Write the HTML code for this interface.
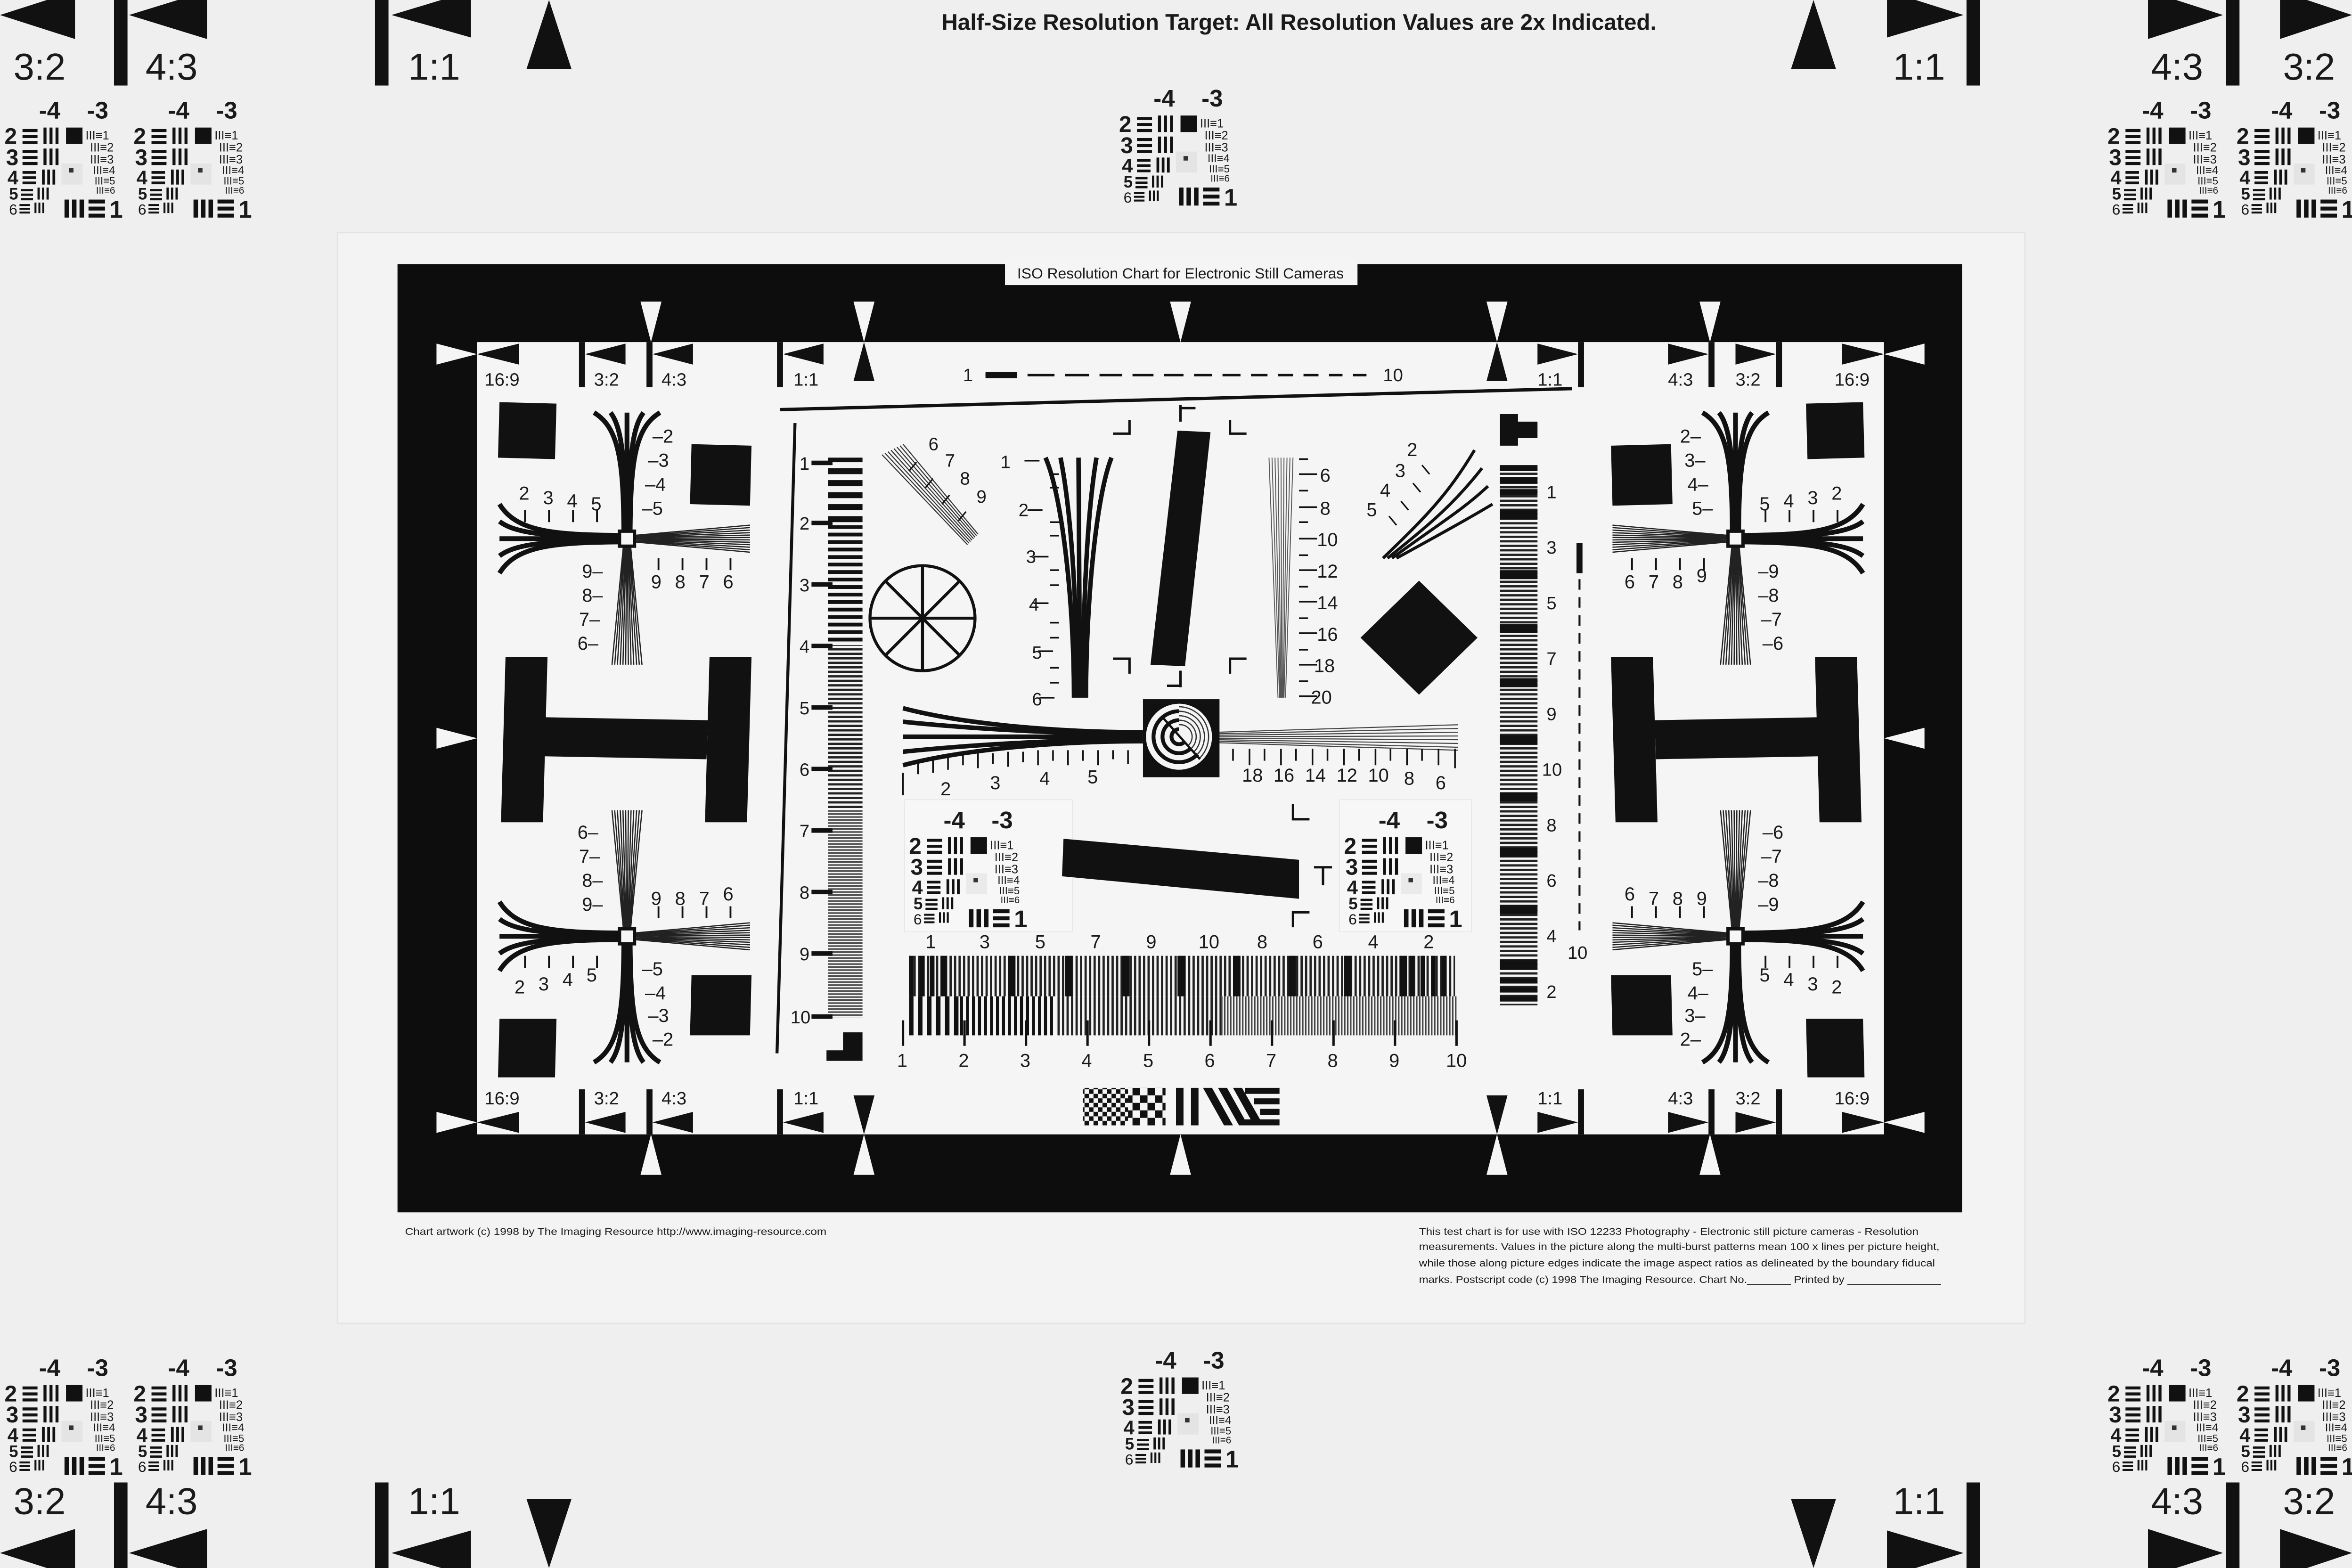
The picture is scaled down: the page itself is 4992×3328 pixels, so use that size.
<!DOCTYPE html>
<html><head><meta charset="utf-8">
<style>
html,body{margin:0;padding:0;background:#efefef;}
svg{display:block;}
text{font-family:"Liberation Sans",Arial,sans-serif;fill:#1a1a1a;}
</style></head>
<body>
<svg width="4992" height="3328" viewBox="0 0 1568 1045" preserveAspectRatio="none" xmlns="http://www.w3.org/2000/svg">
<defs>
<pattern id="h8" width="10" height="8" patternUnits="userSpaceOnUse"><rect width="10" height="4" fill="#111"/></pattern>
<pattern id="h5" width="10" height="5" patternUnits="userSpaceOnUse"><rect width="10" height="2.5" fill="#111"/></pattern>
<pattern id="h3" width="10" height="3" patternUnits="userSpaceOnUse"><rect width="10" height="1.5" fill="#222"/></pattern>
<pattern id="h2" width="10" height="2" patternUnits="userSpaceOnUse"><rect width="10" height="1" fill="#444"/></pattern>
<pattern id="v6" width="6" height="10" patternUnits="userSpaceOnUse"><rect width="3" height="10" fill="#111"/></pattern>
<pattern id="v4" width="4" height="10" patternUnits="userSpaceOnUse"><rect width="2" height="10" fill="#111"/></pattern>
<pattern id="v3" width="3" height="10" patternUnits="userSpaceOnUse"><rect width="1.5" height="10" fill="#222"/></pattern>
<pattern id="v2" width="2" height="10" patternUnits="userSpaceOnUse"><rect width="1" height="10" fill="#444"/></pattern>
<pattern id="chk" width="6" height="6" patternUnits="userSpaceOnUse"><rect width="3" height="3" fill="#111"/><rect x="3" y="3" width="3" height="3" fill="#111"/></pattern>
<pattern id="chk2" width="10" height="10" patternUnits="userSpaceOnUse"><rect width="5" height="5" fill="#111"/><rect x="5" y="5" width="5" height="5" fill="#111"/></pattern>
<g id="cross">
 <g fill="none" stroke="#111" stroke-width="3.2">
  <path d="M -2.1 -6 C -2.5 -50 -5 -74 -22 -84"/><path d="M -1 -6 C -1.3 -50 -3 -74 -11 -84"/><path d="M 0 -6 L 0 -84"/><path d="M 1 -6 C 1.3 -50 3 -74 11 -84"/><path d="M 2.1 -6 C 2.5 -50 5 -74 22 -84"/>
  <path d="M -6 -2.2 C -50 -2.6 -74 -5 -85 -23"/><path d="M -6 -1.1 C -50 -1.3 -74 -3 -85 -11.5"/><path d="M -6 0 L -85 0"/><path d="M -6 1.1 C -50 1.3 -74 3 -85 11.5"/><path d="M -6 2.2 C -50 2.6 -74 5 -85 23"/>
 </g>
 <path fill="none" stroke="#222" stroke-width="0.8" d="M -2.5 6 L -10 84 M -2 6 L -8.2 84 M -1.6 6 L -6.4 84 M -1.1 6 L -4.5 84 M -0.7 6 L -2.7 84 M -0.2 6 L -0.9 84 M 0.2 6 L 0.9 84 M 0.7 6 L 2.7 84 M 1.1 6 L 4.5 84 M 1.6 6 L 6.4 84 M 2 6 L 8.2 84 M 2.5 6 L 10 84
 M 6 -2.3 L 82 -9 M 6 -1.8 L 82 -7.4 M 6 -1.4 L 82 -5.7 M 6 -1 L 82 -4 M 6 -0.6 L 82 -2.4 M 6 -0.2 L 82 -0.8 M 6 0.2 L 82 0.8 M 6 0.6 L 82 2.4 M 6 1 L 82 4 M 6 1.4 L 82 5.7 M 6 1.8 L 82 7.4 M 6 2.3 L 82 9"/>
 <rect x="-5" y="-5" width="10" height="10" fill="#f6f6f6" stroke="#111" stroke-width="2.2"/>
</g>
<g id="pshapes">
 <rect x="13" y="23" width="10" height="2" fill="#111"/><rect x="13" y="27" width="10" height="2" fill="#111"/><rect x="13" y="31" width="10" height="2" fill="#111"/>
 <rect x="27" y="22" width="2" height="11" fill="#111"/><rect x="31" y="22" width="2" height="11" fill="#111"/><rect x="35" y="22" width="2" height="11" fill="#111"/>
 <rect x="42" y="22" width="11" height="11" fill="#111"/>
 <rect x="13" y="37" width="10" height="2" fill="#111"/><rect x="13" y="41" width="10" height="2" fill="#111"/><rect x="13" y="45" width="10" height="2" fill="#111"/>
 <rect x="27" y="36" width="2" height="11" fill="#111"/><rect x="31" y="36" width="2" height="11" fill="#111"/><rect x="35" y="36" width="2" height="11" fill="#111"/>
 <rect x="13" y="51" width="9" height="1.8" fill="#111"/><rect x="13" y="54.5" width="9" height="1.8" fill="#111"/><rect x="13" y="58" width="9" height="1.8" fill="#111"/>
 <rect x="26" y="50" width="1.8" height="10" fill="#111"/><rect x="29.5" y="50" width="1.8" height="10" fill="#111"/><rect x="33" y="50" width="1.8" height="10" fill="#111"/>
 <rect x="12" y="63" width="8" height="1.5" fill="#111"/><rect x="12" y="66" width="8" height="1.5" fill="#111"/><rect x="12" y="69" width="8" height="1.5" fill="#111"/>
 <rect x="23" y="62" width="1.5" height="8" fill="#111"/><rect x="26" y="62" width="1.5" height="8" fill="#111"/><rect x="29" y="62" width="1.5" height="8" fill="#111"/>
 <rect x="11" y="73" width="7" height="1.3" fill="#111"/><rect x="11" y="75.5" width="7" height="1.3" fill="#111"/><rect x="11" y="78" width="7" height="1.3" fill="#111"/>
 <rect x="21" y="72" width="1.3" height="7" fill="#111"/><rect x="23.6" y="72" width="1.3" height="7" fill="#111"/><rect x="26.2" y="72" width="1.3" height="7" fill="#111"/>
 <rect x="41" y="70" width="3" height="12" fill="#111"/><rect x="46" y="70" width="3" height="12" fill="#111"/><rect x="51" y="70" width="3" height="12" fill="#111"/>
 <rect x="57" y="70" width="11" height="2.6" fill="#111"/><rect x="57" y="74.7" width="11" height="2.6" fill="#111"/><rect x="57" y="79.4" width="11" height="2.6" fill="#111"/>
 <rect x="39" y="46" width="14" height="14" fill="#bbb" opacity="0.2"/>
 <rect x="44" y="49" width="3" height="3" fill="#333"/>
</g>
</defs>

<!-- paper -->
<rect x="225" y="155" width="1125" height="727" fill="#f3f3f3" stroke="#e4e4e4" stroke-width="1"/>

<!-- title -->
<text x="866" y="20" font-size="15" font-weight="bold" text-anchor="middle">Half-Size Resolution Target: All Resolution Values are 2x Indicated.</text>

<!-- outer corner markers top -->
<g fill="#111">
 <polygon points="0,10 50,-6 50,26"/><rect x="76" y="0" width="9" height="57"/><polygon points="86,10 138,-6 138,26"/>
 <rect x="250" y="0" width="9" height="57"/><polygon points="261,10 314,-6 314,25"/>
 <polygon points="366,0 351,46 381,46"/>
 <polygon points="1568,10 1520,-6 1520,26"/><rect x="1484" y="0" width="9" height="57"/><polygon points="1482,10 1432,-6 1432,26"/>
 <rect x="1311" y="0" width="9" height="57"/><polygon points="1309,10 1258,-6 1258,25"/>
 <polygon points="1209,0 1194,46 1224,46"/>
 <!-- bottom -->
 <polygon points="0,1035 50,1051 50,1019"/><rect x="76" y="988" width="9" height="57"/><polygon points="86,1035 138,1051 138,1019"/>
 <rect x="250" y="988" width="9" height="57"/><polygon points="261,1035 314,1051 314,1020"/>
 <polygon points="366,1045 351,999 381,999"/>
 <polygon points="1568,1035 1520,1051 1520,1019"/><rect x="1484" y="988" width="9" height="57"/><polygon points="1482,1035 1432,1051 1432,1019"/>
 <rect x="1311" y="988" width="9" height="57"/><polygon points="1309,1035 1258,1051 1258,1020"/>
 <polygon points="1209,1045 1194,999 1224,999"/>
</g>
<g font-size="25">
 <text x="9" y="53">3:2</text><text x="97" y="53">4:3</text><text x="272" y="53">1:1</text>
 <text x="1262" y="53">1:1</text><text x="1434" y="53">4:3</text><text x="1522" y="53">3:2</text>
 <text x="9" y="1009">3:2</text><text x="97" y="1009">4:3</text><text x="272" y="1009">1:1</text>
 <text x="1262" y="1009">1:1</text><text x="1434" y="1009">4:3</text><text x="1522" y="1009">3:2</text>
</g>

<!-- patches -->
<g transform="translate(745,55)">
 <use href="#pshapes"/>
 <text x="24" y="16" font-size="16" font-weight="bold">-4</text><text x="56" y="16" font-size="16" font-weight="bold">-3</text>
 <text x="1" y="33" font-size="15" font-weight="bold">2</text><text x="2" y="47" font-size="15" font-weight="bold">3</text><text x="3" y="60" font-size="13" font-weight="bold">4</text><text x="4" y="70" font-size="11" font-weight="bold">5</text><text x="4" y="80" font-size="10">6</text>
 <text x="55" y="30" font-size="8">III≡1</text><text x="58" y="38" font-size="8">III≡2</text><text x="58" y="46" font-size="8">III≡3</text><text x="60" y="53" font-size="7.5">III≡4</text><text x="61" y="60" font-size="7">III≡5</text><text x="62" y="66" font-size="6.5">III≡6</text>
 <text x="71" y="82" font-size="16" font-weight="bold">1</text>
</g>
<g transform="translate(2,63)">
 <use href="#pshapes"/>
 <text x="24" y="16" font-size="16" font-weight="bold">-4</text><text x="56" y="16" font-size="16" font-weight="bold">-3</text>
 <text x="1" y="33" font-size="15" font-weight="bold">2</text><text x="2" y="47" font-size="15" font-weight="bold">3</text><text x="3" y="60" font-size="13" font-weight="bold">4</text><text x="4" y="70" font-size="11" font-weight="bold">5</text><text x="4" y="80" font-size="10">6</text>
 <text x="55" y="30" font-size="8">III≡1</text><text x="58" y="38" font-size="8">III≡2</text><text x="58" y="46" font-size="8">III≡3</text><text x="60" y="53" font-size="7.5">III≡4</text><text x="61" y="60" font-size="7">III≡5</text><text x="62" y="66" font-size="6.5">III≡6</text>
 <text x="71" y="82" font-size="16" font-weight="bold">1</text>
</g>
<g transform="translate(88,63)">
 <use href="#pshapes"/>
 <text x="24" y="16" font-size="16" font-weight="bold">-4</text><text x="56" y="16" font-size="16" font-weight="bold">-3</text>
 <text x="1" y="33" font-size="15" font-weight="bold">2</text><text x="2" y="47" font-size="15" font-weight="bold">3</text><text x="3" y="60" font-size="13" font-weight="bold">4</text><text x="4" y="70" font-size="11" font-weight="bold">5</text><text x="4" y="80" font-size="10">6</text>
 <text x="55" y="30" font-size="8">III≡1</text><text x="58" y="38" font-size="8">III≡2</text><text x="58" y="46" font-size="8">III≡3</text><text x="60" y="53" font-size="7.5">III≡4</text><text x="61" y="60" font-size="7">III≡5</text><text x="62" y="66" font-size="6.5">III≡6</text>
 <text x="71" y="82" font-size="16" font-weight="bold">1</text>
</g>
<g transform="translate(1404,63)">
 <use href="#pshapes"/>
 <text x="24" y="16" font-size="16" font-weight="bold">-4</text><text x="56" y="16" font-size="16" font-weight="bold">-3</text>
 <text x="1" y="33" font-size="15" font-weight="bold">2</text><text x="2" y="47" font-size="15" font-weight="bold">3</text><text x="3" y="60" font-size="13" font-weight="bold">4</text><text x="4" y="70" font-size="11" font-weight="bold">5</text><text x="4" y="80" font-size="10">6</text>
 <text x="55" y="30" font-size="8">III≡1</text><text x="58" y="38" font-size="8">III≡2</text><text x="58" y="46" font-size="8">III≡3</text><text x="60" y="53" font-size="7.5">III≡4</text><text x="61" y="60" font-size="7">III≡5</text><text x="62" y="66" font-size="6.5">III≡6</text>
 <text x="71" y="82" font-size="16" font-weight="bold">1</text>
</g>
<g transform="translate(1490,63)">
 <use href="#pshapes"/>
 <text x="24" y="16" font-size="16" font-weight="bold">-4</text><text x="56" y="16" font-size="16" font-weight="bold">-3</text>
 <text x="1" y="33" font-size="15" font-weight="bold">2</text><text x="2" y="47" font-size="15" font-weight="bold">3</text><text x="3" y="60" font-size="13" font-weight="bold">4</text><text x="4" y="70" font-size="11" font-weight="bold">5</text><text x="4" y="80" font-size="10">6</text>
 <text x="55" y="30" font-size="8">III≡1</text><text x="58" y="38" font-size="8">III≡2</text><text x="58" y="46" font-size="8">III≡3</text><text x="60" y="53" font-size="7.5">III≡4</text><text x="61" y="60" font-size="7">III≡5</text><text x="62" y="66" font-size="6.5">III≡6</text>
 <text x="71" y="82" font-size="16" font-weight="bold">1</text>
</g>
<g transform="translate(2,901)">
 <use href="#pshapes"/>
 <text x="24" y="16" font-size="16" font-weight="bold">-4</text><text x="56" y="16" font-size="16" font-weight="bold">-3</text>
 <text x="1" y="33" font-size="15" font-weight="bold">2</text><text x="2" y="47" font-size="15" font-weight="bold">3</text><text x="3" y="60" font-size="13" font-weight="bold">4</text><text x="4" y="70" font-size="11" font-weight="bold">5</text><text x="4" y="80" font-size="10">6</text>
 <text x="55" y="30" font-size="8">III≡1</text><text x="58" y="38" font-size="8">III≡2</text><text x="58" y="46" font-size="8">III≡3</text><text x="60" y="53" font-size="7.5">III≡4</text><text x="61" y="60" font-size="7">III≡5</text><text x="62" y="66" font-size="6.5">III≡6</text>
 <text x="71" y="82" font-size="16" font-weight="bold">1</text>
</g>
<g transform="translate(88,901)">
 <use href="#pshapes"/>
 <text x="24" y="16" font-size="16" font-weight="bold">-4</text><text x="56" y="16" font-size="16" font-weight="bold">-3</text>
 <text x="1" y="33" font-size="15" font-weight="bold">2</text><text x="2" y="47" font-size="15" font-weight="bold">3</text><text x="3" y="60" font-size="13" font-weight="bold">4</text><text x="4" y="70" font-size="11" font-weight="bold">5</text><text x="4" y="80" font-size="10">6</text>
 <text x="55" y="30" font-size="8">III≡1</text><text x="58" y="38" font-size="8">III≡2</text><text x="58" y="46" font-size="8">III≡3</text><text x="60" y="53" font-size="7.5">III≡4</text><text x="61" y="60" font-size="7">III≡5</text><text x="62" y="66" font-size="6.5">III≡6</text>
 <text x="71" y="82" font-size="16" font-weight="bold">1</text>
</g>
<g transform="translate(746,896)">
 <use href="#pshapes"/>
 <text x="24" y="16" font-size="16" font-weight="bold">-4</text><text x="56" y="16" font-size="16" font-weight="bold">-3</text>
 <text x="1" y="33" font-size="15" font-weight="bold">2</text><text x="2" y="47" font-size="15" font-weight="bold">3</text><text x="3" y="60" font-size="13" font-weight="bold">4</text><text x="4" y="70" font-size="11" font-weight="bold">5</text><text x="4" y="80" font-size="10">6</text>
 <text x="55" y="30" font-size="8">III≡1</text><text x="58" y="38" font-size="8">III≡2</text><text x="58" y="46" font-size="8">III≡3</text><text x="60" y="53" font-size="7.5">III≡4</text><text x="61" y="60" font-size="7">III≡5</text><text x="62" y="66" font-size="6.5">III≡6</text>
 <text x="71" y="82" font-size="16" font-weight="bold">1</text>
</g>
<g transform="translate(1404,901)">
 <use href="#pshapes"/>
 <text x="24" y="16" font-size="16" font-weight="bold">-4</text><text x="56" y="16" font-size="16" font-weight="bold">-3</text>
 <text x="1" y="33" font-size="15" font-weight="bold">2</text><text x="2" y="47" font-size="15" font-weight="bold">3</text><text x="3" y="60" font-size="13" font-weight="bold">4</text><text x="4" y="70" font-size="11" font-weight="bold">5</text><text x="4" y="80" font-size="10">6</text>
 <text x="55" y="30" font-size="8">III≡1</text><text x="58" y="38" font-size="8">III≡2</text><text x="58" y="46" font-size="8">III≡3</text><text x="60" y="53" font-size="7.5">III≡4</text><text x="61" y="60" font-size="7">III≡5</text><text x="62" y="66" font-size="6.5">III≡6</text>
 <text x="71" y="82" font-size="16" font-weight="bold">1</text>
</g>
<g transform="translate(1490,901)">
 <use href="#pshapes"/>
 <text x="24" y="16" font-size="16" font-weight="bold">-4</text><text x="56" y="16" font-size="16" font-weight="bold">-3</text>
 <text x="1" y="33" font-size="15" font-weight="bold">2</text><text x="2" y="47" font-size="15" font-weight="bold">3</text><text x="3" y="60" font-size="13" font-weight="bold">4</text><text x="4" y="70" font-size="11" font-weight="bold">5</text><text x="4" y="80" font-size="10">6</text>
 <text x="55" y="30" font-size="8">III≡1</text><text x="58" y="38" font-size="8">III≡2</text><text x="58" y="46" font-size="8">III≡3</text><text x="60" y="53" font-size="7.5">III≡4</text><text x="61" y="60" font-size="7">III≡5</text><text x="62" y="66" font-size="6.5">III≡6</text>
 <text x="71" y="82" font-size="16" font-weight="bold">1</text>
</g>

<!-- chart frame -->
<rect x="265" y="176" width="1043" height="632" fill="#0d0d0d"/>
<rect x="318" y="228" width="938" height="528" fill="#f5f5f5"/>
<rect x="670" y="173" width="235" height="17" fill="#f5f5f5"/>
<text x="787" y="185.5" font-size="10" text-anchor="middle">ISO Resolution Chart for Electronic Still Cameras</text>

<!-- frame markers -->
<g fill="#f5f5f5">
 <polygon points="291,229 291,243 318,236"/><polygon points="1283,229 1283,243 1256,236"/>
 <polygon points="291,741 291,755 318,748"/><polygon points="1283,741 1283,755 1256,748"/>
 <polygon points="291,485 291,499 318,492"/><polygon points="1283,485 1283,499 1256,492"/>
 <polygon points="427,201 441,201 434,228"/><polygon points="569,201 583,201 576,228"/><polygon points="780,201 794,201 787,228"/><polygon points="991,201 1005,201 998,228"/><polygon points="1133,201 1147,201 1140,228"/>
 <polygon points="427,783 441,783 434,756"/><polygon points="569,783 583,783 576,756"/><polygon points="780,783 794,783 787,756"/><polygon points="991,783 1005,783 998,756"/><polygon points="1133,783 1147,783 1140,756"/>
</g>
<g fill="#111">
 <polygon points="318,236 346,229 346,243"/><polygon points="1256,236 1228,229 1228,243"/>
 <polygon points="318,748 346,741 346,755"/><polygon points="1256,748 1228,741 1228,755"/>
 <rect x="386" y="228" width="4" height="30"/><polygon points="390,236 417,229 417,243"/>
 <rect x="431" y="228" width="4" height="30"/><polygon points="435,236 462,229 462,243"/>
 <rect x="518" y="228" width="4" height="30"/><polygon points="522,236 549,229 549,243"/>
 <polygon points="576,228 569,254 583,254"/><polygon points="998,228 991,254 1005,254"/>
 <rect x="1052" y="228" width="4" height="30"/><polygon points="1052,236 1025,229 1025,243"/>
 <rect x="1139" y="228" width="4" height="30"/><polygon points="1139,236 1112,229 1112,243"/>
 <rect x="1184" y="228" width="4" height="30"/><polygon points="1184,236 1157,229 1157,243"/>
 <rect x="386" y="726" width="4" height="30"/><polygon points="390,748 417,741 417,755"/>
 <rect x="431" y="726" width="4" height="30"/><polygon points="435,748 462,741 462,755"/>
 <rect x="518" y="726" width="4" height="30"/><polygon points="522,748 549,741 549,755"/>
 <polygon points="576,756 569,730 583,730"/><polygon points="998,756 991,730 1005,730"/>
 <rect x="1052" y="726" width="4" height="30"/><polygon points="1052,748 1025,741 1025,755"/>
 <rect x="1139" y="726" width="4" height="30"/><polygon points="1139,748 1112,741 1112,755"/>
 <rect x="1184" y="726" width="4" height="30"/><polygon points="1184,748 1157,741 1157,755"/>
</g>
<g font-size="12">
 <text x="323" y="257">16:9</text><text x="396" y="257">3:2</text><text x="441" y="257">4:3</text><text x="529" y="257">1:1</text>
 <text x="1025" y="257">1:1</text><text x="1112" y="257">4:3</text><text x="1157" y="257">3:2</text><text x="1223" y="257">16:9</text>
 <text x="323" y="736">16:9</text><text x="396" y="736">3:2</text><text x="441" y="736">4:3</text><text x="529" y="736">1:1</text>
 <text x="1025" y="736">1:1</text><text x="1112" y="736">4:3</text><text x="1157" y="736">3:2</text><text x="1223" y="736">16:9</text>
 <text x="642" y="254">1</text><text x="922" y="254">10</text>
</g>
<path d="M657 250 H678 M685 250 H703 M710 250 H726 M733 250 H748 M755 250 H769 M776 250 H789 M796 250 H808 M815 250 H827 M834 250 H845 M852 250 H862 M869 250 H879 M886 250 H895 M902 250 H911" stroke="#111" stroke-width="1.6" fill="none"/>
<rect x="657" y="248" width="21" height="4" fill="#111"/>

<!-- long lines -->
<line x1="520" y1="273" x2="1048" y2="259" stroke="#111" stroke-width="2.2"/>
<line x1="530" y1="282" x2="518" y2="702" stroke="#111" stroke-width="2"/>

<!-- left quadrant squares and I beams -->
<g fill="#111">
 <polygon points="333,268 371,269 370,306 332,305"/>
 <polygon points="461,296 501,297 500,337 460,336"/>
 <polygon points="461,650 501,650 500,690 460,690"/>
 <polygon points="333,679 371,679 370,718 332,718"/>
 <polygon points="337,438 365,438 362,548 334,548"/>
 <polygon points="473,438 501,438 498,548 470,548"/>
 <polygon points="362,478 472,480 471,506 361,504"/>
 <polygon points="1242,268 1204,269 1205,306 1243,305"/>
 <polygon points="1114,296 1074,297 1075,337 1115,336"/>
 <polygon points="1114,650 1074,650 1075,690 1115,690"/>
 <polygon points="1242,679 1204,679 1205,718 1243,718"/>
 <polygon points="1238,438 1210,438 1213,548 1241,548"/>
 <polygon points="1102,438 1074,438 1077,548 1105,548"/>
 <polygon points="1213,478 1103,480 1104,506 1214,504"/>
</g>
<use href="#cross" transform="translate(418,359)"/>
<use href="#cross" transform="translate(418,624) scale(1,-1)"/>
<use href="#cross" transform="translate(1157,359) scale(-1,1)"/>
<use href="#cross" transform="translate(1157,624) scale(-1,-1)"/>
<g stroke="#111" stroke-width="1.2">
 <path d="M350 340 V348 M366 340 V348 M382 340 V348 M398 340 V348 M439 372 V380 M455 372 V380 M471 372 V380 M487 372 V380"/>
 <path d="M350 637 V645 M366 637 V645 M382 637 V645 M398 637 V645 M439 604 V612 M455 604 V612 M471 604 V612 M487 604 V612"/>
 <path d="M1225 340 V348 M1209 340 V348 M1193 340 V348 M1177 340 V348 M1136 372 V380 M1120 372 V380 M1104 372 V380 M1088 372 V380"/>
 <path d="M1225 637 V645 M1209 637 V645 M1193 637 V645 M1177 637 V645 M1136 604 V612 M1120 604 V612 M1104 604 V612 M1088 604 V612"/>
</g>
<g font-size="12.5">
 <text x="346" y="333">2</text><text x="362" y="336">3</text><text x="378" y="338">4</text><text x="394" y="340">5</text>
 <text x="435" y="295">–2</text><text x="432" y="311">–3</text><text x="430" y="327">–4</text><text x="428" y="343">–5</text>
 <text x="388" y="385">9–</text><text x="388" y="401">8–</text><text x="386" y="417">7–</text><text x="385" y="433">6–</text>
 <text x="434" y="392">9</text><text x="450" y="392">8</text><text x="466" y="392">7</text><text x="482" y="392">6</text>
 <text x="385" y="559">6–</text><text x="386" y="575">7–</text><text x="388" y="591">8–</text><text x="388" y="607">9–</text>
 <text x="434" y="603">9</text><text x="450" y="603">8</text><text x="466" y="603">7</text><text x="482" y="600">6</text>
 <text x="343" y="662">2</text><text x="359" y="660">3</text><text x="375" y="657">4</text><text x="391" y="654">5</text>
 <text x="428" y="650">–5</text><text x="430" y="666">–4</text><text x="432" y="681">–3</text><text x="435" y="697">–2</text>
 <text x="1120" y="295">2–</text><text x="1123" y="311">3–</text><text x="1125" y="327">4–</text><text x="1128" y="343">5–</text>
 <text x="1173" y="340">5</text><text x="1189" y="338">4</text><text x="1205" y="336">3</text><text x="1221" y="333">2</text>
 <text x="1083" y="392">6</text><text x="1099" y="392">7</text><text x="1115" y="392">8</text><text x="1131" y="388">9</text>
 <text x="1172" y="385">–9</text><text x="1172" y="401">–8</text><text x="1174" y="417">–7</text><text x="1175" y="433">–6</text>
 <text x="1175" y="559">–6</text><text x="1174" y="575">–7</text><text x="1172" y="591">–8</text><text x="1172" y="607">–9</text>
 <text x="1083" y="600">6</text><text x="1099" y="603">7</text><text x="1115" y="603">8</text><text x="1131" y="603">9</text>
 <text x="1128" y="650">5–</text><text x="1125" y="666">4–</text><text x="1123" y="681">3–</text><text x="1120" y="697">2–</text>
 <text x="1173" y="654">5</text><text x="1189" y="657">4</text><text x="1205" y="660">3</text><text x="1221" y="662">2</text>
</g>

<!-- left vertical resolution bar -->
<rect x="552" y="305" width="23" height="45" fill="url(#h8)"/>
<rect x="552" y="350" width="23" height="80" fill="url(#h5)"/>
<rect x="552" y="430" width="23" height="110" fill="url(#h3)"/>
<rect x="552" y="540" width="23" height="138" fill="url(#h2)"/>
<g fill="#111">
 <rect x="541" y="307" width="14" height="3"/><rect x="541" y="347" width="14" height="3"/><rect x="541" y="388" width="14" height="3"/><rect x="541" y="429" width="14" height="3"/><rect x="541" y="470" width="14" height="3"/><rect x="541" y="511" width="14" height="3"/><rect x="541" y="552" width="14" height="3"/><rect x="541" y="593" width="14" height="3"/><rect x="541" y="634" width="14" height="3"/><rect x="541" y="676" width="14" height="3"/>
 <polygon points="562,688 575,688 575,707 551,707 551,700 562,700"/>
</g>
<g font-size="12">
 <text x="533" y="313">1</text><text x="533" y="353">2</text><text x="533" y="394">3</text><text x="533" y="435">4</text><text x="533" y="476">5</text><text x="533" y="517">6</text><text x="533" y="558">7</text><text x="533" y="599">8</text><text x="533" y="640">9</text><text x="527" y="682">10</text>
</g>

<!-- right vertical resolution bar -->
<rect x="1000" y="310" width="25" height="360" fill="url(#h3)"/>
<g fill="#111">
 <rect x="1000" y="310" width="25" height="4"/><rect x="1000" y="318" width="25" height="4"/><rect x="1000" y="326" width="25" height="4"/>
 <rect x="1000" y="340" width="25" height="6"/><rect x="1000" y="380" width="25" height="6"/><rect x="1000" y="416" width="25" height="6"/><rect x="1000" y="452" width="25" height="6"/><rect x="1000" y="490" width="25" height="6"/><rect x="1000" y="528" width="25" height="6"/><rect x="1000" y="565" width="25" height="6"/><rect x="1000" y="603" width="25" height="6"/><rect x="1000" y="640" width="25" height="6"/>
 <rect x="1000" y="652" width="25" height="3"/><rect x="1000" y="658" width="25" height="3"/><rect x="1000" y="664" width="25" height="3"/>
 <polygon points="1000,276 1012,276 1012,281 1025,281 1025,292 1012,292 1012,297 1000,297"/>
 <rect x="1051" y="362" width="4" height="20"/>
</g>
<line x1="1053" y1="386" x2="1053" y2="620" stroke="#111" stroke-width="1.3" stroke-dasharray="7,5"/>
<g font-size="12">
 <text x="1031" y="332">1</text><text x="1031" y="369">3</text><text x="1031" y="406">5</text><text x="1031" y="443">7</text><text x="1031" y="480">9</text><text x="1028" y="517">10</text><text x="1031" y="554">8</text><text x="1031" y="591">6</text><text x="1031" y="628">4</text><text x="1031" y="665">2</text><text x="1045" y="639">10</text>
</g>

<!-- top-left diag wedge -->
<g stroke="#333" stroke-width="0.7" fill="none">
 <path d="M588 303 L645 363 M590 302 L646 362 M592 301 L647 361 M594 300 L648 360 M596 299 L649 359 M598 298 L650 358 M600 297 L651 357 M602 296 L652 356"/>
</g>
<g stroke="#111" stroke-width="1"><path d="M611 308 L606 314 M622 319 L617 325 M633 330 L628 336 M644 341 L639 347"/></g>
<g font-size="12"><text x="619" y="300">6</text><text x="630" y="311">7</text><text x="640" y="323">8</text><text x="651" y="335">9</text></g>

<!-- circle spokes -->
<g stroke="#111" stroke-width="2" fill="none">
 <circle cx="615" cy="412" r="35"/>
 <path d="M615 377 V447 M580 412 H650 M590 387 L640 437 M640 387 L590 437"/>
</g>

<!-- vertical converging wedge -->
<g stroke="#111" fill="none">
 <path stroke-width="3" d="M697 305 C708 330 716 400 716 465 M707 305 C714 340 718 400 718 465 M719 305 L720 465 M731 305 C725 340 722 400 722 465 M741 305 C731 330 724 400 724 465"/>
</g>
<g stroke="#111" stroke-width="1.1"><path d="M683 307 H693 M700 316 H706 M700 325 H706 M685 340 H695 M700 348 H706 M700 357 H706 M689 371 H699 M700 380 H706 M689 402 H699 M700 390 H706 M700 415 H706 M692 434 H702 M700 425 H706 M700 445 H706 M693 465 H703 M700 455 H706"/></g>
<g font-size="12"><text x="667" y="312">1</text><text x="679" y="344">2</text><text x="684" y="375">3</text><text x="686" y="407">4</text><text x="688" y="439">5</text><text x="688" y="470">6</text></g>

<!-- tilted vertical bar & brackets -->
<polygon points="785,287 807,288 790,444 767,443" fill="#111"/>
<g stroke="#111" stroke-width="1.6" fill="none">
 <path d="M742 289 H753 V280 M820 280 V289 H831 M787 270 V281 M787 272 H797 M742 439 H753 V449 M820 449 V439 H831 M787 447 V458 M778 457 H787"/>
 <path d="M700 546 H711 V536 M862 536 V546 H873 M700 608 H711 V618 M862 618 V608 H873 M696 570 V582 M690 582 H702 M876 578 H888 M882 578 V590"/>
</g>

<!-- fine vertical wedge right -->
<g stroke="#555" stroke-width="0.6" fill="none">
 <path d="M846 305 L852 465 M848 305 L853 465 M850 305 L853.5 465 M852 305 L854 465 M854 305 L854.5 465 M856 305 L855 465 M858 305 L855.5 465 M860 305 L856 465 M862 305 L857 465"/>
</g>
<g stroke="#111" stroke-width="1.1"><path d="M866 306 H872 M866 316 H878 M866 327 H872 M866 338 H878 M866 348 H872 M866 359 H878 M866 370 H872 M866 380 H878 M866 391 H872 M866 401 H878 M866 412 H872 M866 422 H878 M866 433 H872 M866 443 H878 M866 454 H872 M866 464 H878"/></g>
<g font-size="12.5"><text x="880" y="321">6</text><text x="880" y="343">8</text><text x="878" y="364">10</text><text x="878" y="385">12</text><text x="878" y="406">14</text><text x="878" y="427">16</text><text x="876" y="448">18</text><text x="874" y="469">20</text></g>

<!-- diag wedge top-right -->
<g stroke="#111" fill="none" stroke-width="2">
 <path d="M922 372 C950 345 965 330 983 300 M925 372 C955 348 970 335 988 312 M928 372 C958 350 975 340 992 324 M931 372 C962 355 980 345 995 336"/>
</g>
<g stroke="#111" stroke-width="1"><path d="M948 310 L953 316 M942 322 L947 328 M934 334 L939 340 M926 344 L931 350"/></g>
<g font-size="12.5"><text x="938" y="304">2</text><text x="930" y="318">3</text><text x="920" y="331">4</text><text x="911" y="344">5</text></g>

<!-- diamond -->
<polygon points="946,387 985,425 946,463 907,425" fill="#111"/>

<!-- horizontal wedge center -->
<g stroke="#111" fill="none" stroke-width="3">
 <path d="M602 472 C640 482 700 488 762 488 M602 481 C650 486 710 489 762 489.5 M602 491 L762 491 M602 501 C650 496 710 493 762 492.5 M602 510 C640 500 700 494 762 494"/>
</g>
<g stroke="#444" fill="none" stroke-width="0.7">
 <path d="M812 488 L972 483 M812 489 L972 485.5 M812 490 L972 488 M812 491 L972 490.5 M812 492 L972 493 M812 493 L972 495.5 M812 494 L972 498 M812 495 L972 500"/>
</g>
<g stroke="#111" stroke-width="1.1"><path d="M602 515 V530 M612 509 V516 M622 505 V515 M632 503 V513 M642 503 V510 M652 502 V512 M662 502 V509 M672 501 V511 M682 501 V508 M692 500 V510 M702 500 V507 M712 500 V510 M722 500 V507 M732 500 V510 M742 500 V506 M752 500 V509
 M822 499 V507 M833 499 V510 M843 499 V507 M854 499 V510 M864 499 V507 M875 499 V510 M885 499 V507 M896 499 V510 M906 499 V507 M917 499 V510 M927 499 V507 M938 499 V510 M948 499 V507 M959 499 V510 M970 499 V512"/></g>
<g font-size="12.5"><text x="627" y="530">2</text><text x="660" y="526">3</text><text x="693" y="523">4</text><text x="725" y="522">5</text>
<text x="828" y="521">18</text><text x="849" y="521">16</text><text x="870" y="521">14</text><text x="891" y="521">12</text><text x="912" y="521">10</text><text x="936" y="523">8</text><text x="957" y="526">6</text></g>
<!-- center target box -->
<rect x="762" y="466" width="51" height="52" fill="#111"/>
<circle cx="786" cy="491" r="22" fill="#f5f5f5"/>
<g fill="none" stroke="#111">
 <circle cx="786" cy="491" r="17" stroke-width="2.6"/>
 <circle cx="786" cy="491" r="11" stroke-width="2.6"/>
 <circle cx="786" cy="491" r="5" stroke-width="2.6"/>
</g>
<path d="M786 469 A22 22 0 0 1 802 506 L786 491 Z" fill="#f5f5f5"/>
<g fill="none" stroke="#333" stroke-width="0.8">
 <path d="M786 471 A20 20 0 0 1 800 505 M786 474 A17 17 0 0 1 798 503 M786 477 A14 14 0 0 1 796 501 M786 480 A11 11 0 0 1 794 499 M786 483 A8 8 0 0 1 792 497"/>
</g>
<line x1="775" y1="478" x2="800" y2="506" stroke="#111" stroke-width="1.5"/>

<!-- chart patches -->
<rect x="603" y="533" width="112" height="88" fill="#f7f7f7" stroke="#e6e6e6" stroke-width="0.5"/>
<rect x="893" y="533" width="88" height="88" fill="#f7f7f7" stroke="#e6e6e6" stroke-width="0.5"/>
<g transform="translate(605,536)">
 <use href="#pshapes"/>
 <text x="24" y="16" font-size="16" font-weight="bold">-4</text><text x="56" y="16" font-size="16" font-weight="bold">-3</text>
 <text x="1" y="33" font-size="15" font-weight="bold">2</text><text x="2" y="47" font-size="15" font-weight="bold">3</text><text x="3" y="60" font-size="13" font-weight="bold">4</text><text x="4" y="70" font-size="11" font-weight="bold">5</text><text x="4" y="80" font-size="10">6</text>
 <text x="55" y="30" font-size="8">III≡1</text><text x="58" y="38" font-size="8">III≡2</text><text x="58" y="46" font-size="8">III≡3</text><text x="60" y="53" font-size="7.5">III≡4</text><text x="61" y="60" font-size="7">III≡5</text><text x="62" y="66" font-size="6.5">III≡6</text>
 <text x="71" y="82" font-size="16" font-weight="bold">1</text>
</g>
<g transform="translate(895,536)">
 <use href="#pshapes"/>
 <text x="24" y="16" font-size="16" font-weight="bold">-4</text><text x="56" y="16" font-size="16" font-weight="bold">-3</text>
 <text x="1" y="33" font-size="15" font-weight="bold">2</text><text x="2" y="47" font-size="15" font-weight="bold">3</text><text x="3" y="60" font-size="13" font-weight="bold">4</text><text x="4" y="70" font-size="11" font-weight="bold">5</text><text x="4" y="80" font-size="10">6</text>
 <text x="55" y="30" font-size="8">III≡1</text><text x="58" y="38" font-size="8">III≡2</text><text x="58" y="46" font-size="8">III≡3</text><text x="60" y="53" font-size="7.5">III≡4</text><text x="61" y="60" font-size="7">III≡5</text><text x="62" y="66" font-size="6.5">III≡6</text>
 <text x="71" y="82" font-size="16" font-weight="bold">1</text>
</g>

<!-- lower tilted bar -->
<polygon points="709,559 866,573 866,599 708,584" fill="#111"/>

<!-- multiburst -->
<g font-size="12.5">
 <text x="617" y="632">1</text><text x="653" y="632">3</text><text x="690" y="632">5</text><text x="727" y="632">7</text><text x="764" y="632">9</text><text x="799" y="632">10</text><text x="838" y="632">8</text><text x="875" y="632">6</text><text x="912" y="632">4</text><text x="949" y="632">2</text>
</g>
<rect x="605" y="637" width="365" height="27" fill="url(#v3)"/>
<g fill="#111">
 <rect x="606" y="637" width="3" height="27"/><rect x="613" y="637" width="3" height="27"/><rect x="620" y="637" width="3" height="27"/><rect x="627" y="637" width="4" height="27"/>
 <rect x="672" y="637" width="5" height="27"/><rect x="710" y="637" width="5" height="27"/><rect x="748" y="637" width="5" height="27"/><rect x="785" y="637" width="5" height="27"/><rect x="822" y="637" width="5" height="27"/><rect x="859" y="637" width="5" height="27"/><rect x="896" y="637" width="5" height="27"/><rect x="933" y="637" width="5" height="27"/>
 <rect x="940" y="637" width="3" height="27"/><rect x="947" y="637" width="3" height="27"/><rect x="954" y="637" width="3" height="27"/><rect x="961" y="637" width="3" height="27"/>
</g>
<rect x="604" y="664" width="36" height="26" fill="url(#v6)"/>
<rect x="640" y="664" width="64" height="26" fill="url(#v4)"/>
<rect x="704" y="664" width="110" height="26" fill="url(#v3)"/>
<rect x="814" y="664" width="158" height="26" fill="url(#v2)"/>
<g stroke="#111" stroke-width="1.6"><path d="M602 680 V697 M643 680 V697 M684 680 V697 M725 680 V697 M766 680 V697 M807 680 V697 M848 680 V697 M889 680 V697 M930 680 V697 M971 680 V697"/></g>
<g font-size="12.5">
 <text x="598" y="711">1</text><text x="639" y="711">2</text><text x="680" y="711">3</text><text x="721" y="711">4</text><text x="762" y="711">5</text><text x="803" y="711">6</text><text x="844" y="711">7</text><text x="885" y="711">8</text><text x="926" y="711">9</text><text x="964" y="711">10</text>
</g>

<!-- bottom checker -->
<rect x="722" y="725" width="30" height="25" fill="url(#chk)"/>
<rect x="752" y="725" width="25" height="25" fill="url(#chk2)"/>
<g fill="#111">
 <rect x="784" y="725" width="5" height="25"/><rect x="794" y="725" width="5" height="25"/>
 <polygon points="802,725 808,725 822,750 816,750"/><polygon points="812,725 818,725 832,750 826,750"/><polygon points="822,725 828,725 840,746 840,750 836,750"/>
 <rect x="830" y="725" width="23" height="4"/><rect x="836" y="732" width="17" height="4"/><rect x="840" y="739" width="13" height="4"/><rect x="830" y="746" width="23" height="4"/>
</g>

<!-- footers -->
<text x="270" y="823" font-size="6.8" fill="#444" textLength="281" lengthAdjust="spacingAndGlyphs">Chart artwork (c) 1998 by The Imaging Resource http://www.imaging-resource.com</text>
<g font-size="6.8" fill="#444">
 <text x="946" y="823" textLength="333" lengthAdjust="spacingAndGlyphs">This test chart is for use with ISO 12233 Photography - Electronic still picture cameras - Resolution</text>
 <text x="946" y="833" textLength="347" lengthAdjust="spacingAndGlyphs">measurements. Values in the picture along the multi-burst patterns mean 100 x lines per picture height,</text>
 <text x="946" y="844" textLength="344" lengthAdjust="spacingAndGlyphs">while those along picture edges indicate the image aspect ratios as delineated by the boundary fiducal</text>
 <text x="946" y="855" textLength="348" lengthAdjust="spacingAndGlyphs">marks. Postscript code  (c) 1998 The Imaging Resource. Chart No._______ Printed by _______________</text>
</g>
</svg>
</body></html>
